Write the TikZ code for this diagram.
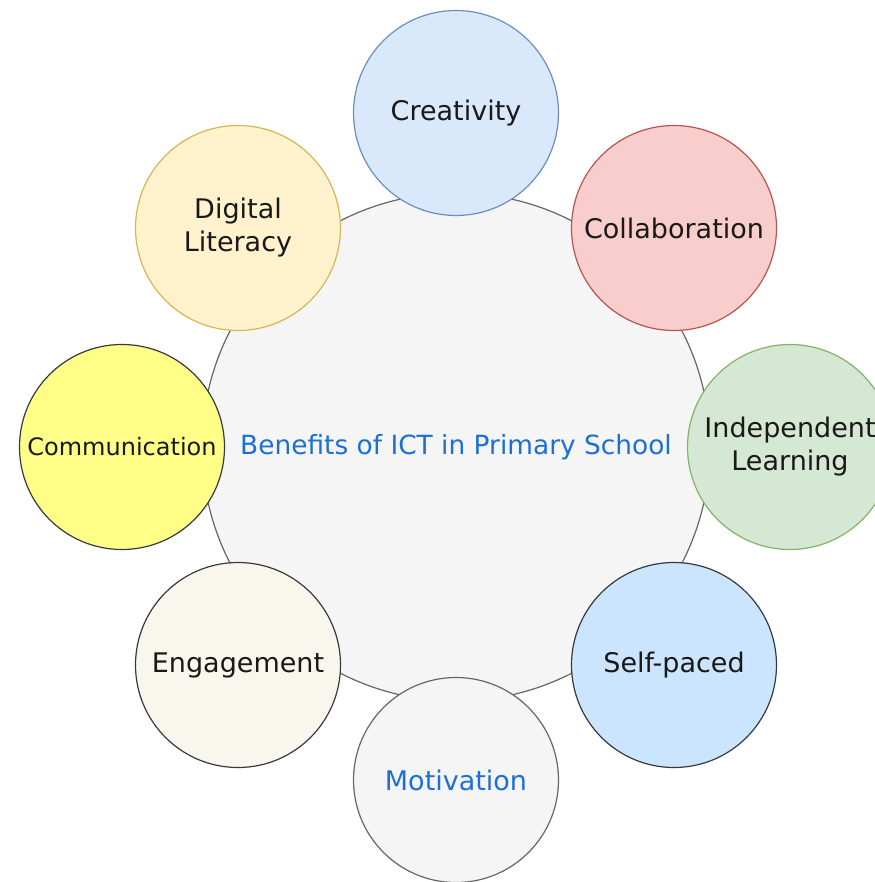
\documentclass[tikz,border=0pt]{standalone}
\usepackage{fontspec}
\setmainfont{DejaVu Sans}
\usepackage{tikz}

\definecolor{hubfill}{HTML}{F5F5F5}
\definecolor{hubline}{HTML}{666666}
\definecolor{hubtext}{HTML}{1C6FD6}
\definecolor{bluefill}{HTML}{DAE8FC}
\definecolor{blueline}{HTML}{6C8EBF}
\definecolor{redfill}{HTML}{F8CECC}
\definecolor{redline}{HTML}{B85450}
\definecolor{greenfill}{HTML}{D5E8D4}
\definecolor{greenline}{HTML}{82B366}
\definecolor{goldfill}{HTML}{FFF2CC}
\definecolor{goldline}{HTML}{D6B656}
\definecolor{lemonfill}{HTML}{FFFF88}
\definecolor{skyfill}{HTML}{CCE5FF}
\definecolor{creamfill}{HTML}{F9F7ED}
\definecolor{darkline}{HTML}{36393D}

\tikzset{
  petal/.style={circle, draw, line width=0.6pt, minimum size=102.5pt, inner sep=0pt,
    align=center, font=\fontsize{13.5}{16.5}\selectfont, text=black!90},
  hub/.style={circle, draw=hubline, fill=hubfill, line width=0.6pt, minimum size=254pt,
    inner sep=0pt, text=hubtext, font=\fontsize{13.2}{16}\selectfont}
}

\begin{document}
\begin{tikzpicture}[x=0.5pt, y=-0.5pt]
		%%%%% START %%%%%
		
		\useasboundingbox (0, 0) rectangle (874, 882);
		
		\node[hub] (ict) at (456, 447) {Benefits of ICT in Primary School};
		
		\node[petal, draw=blueline, fill=bluefill] (crea) at (456, 113) {Creativity};
		\node[petal, draw=redline, fill=redfill] (collab) at (674, 228) {Collaboration};
		\node[petal, draw=greenline, fill=greenfill] (indep) at (790, 447) {Independent\\Learning};
		\node[petal, draw=darkline, fill=skyfill] (selfp) at (674, 665) {Self-paced};
		
		\node[petal, draw=hubline, fill=hubfill, text=hubtext] (motiv) at (456, 780) {Motivation};
		\node[petal, draw=darkline, fill=creamfill] (engage) at (238, 665) {Engagement};
		\node[petal, draw=darkline, fill=lemonfill, font=\fontsize{12}{15}\selectfont] (commu) at (122, 447) {Communication};
		\node[petal, draw=goldline, fill=goldfill] (digit) at (238, 228) {Digital\\Literacy};
		
		%%%%% END %%%%%
\end{tikzpicture}
\end{document}
